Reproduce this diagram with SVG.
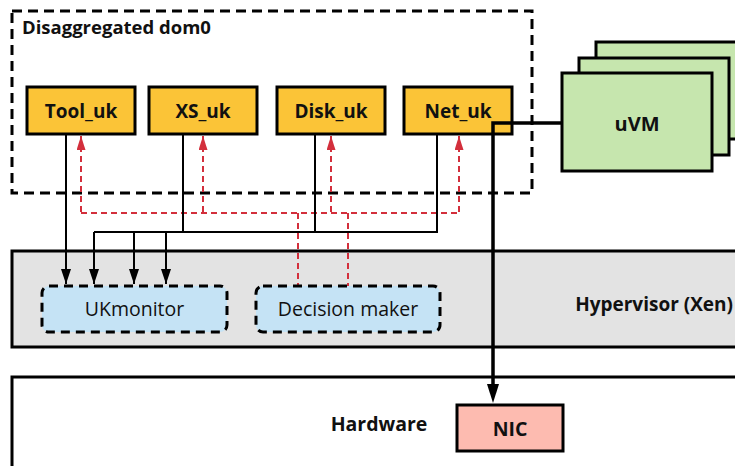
<svg xmlns="http://www.w3.org/2000/svg" width="735" height="466" viewBox="0 0 735 466">
<defs>
<style>
.uk{fill:#FBC437;stroke:#000;stroke-width:3}
.bt{font-family:"Open Sans","Noto Sans",sans-serif;font-weight:bold;fill:#111}
.rt{font-family:"Open Sans","Noto Sans",sans-serif;fill:#111}
.vm{fill:#C6E6AE;stroke:#000;stroke-width:3}
.mod{fill:#C5E3F5;stroke:#000;stroke-width:3;stroke-dasharray:9 6}
.blk{fill:none;stroke:#000;stroke-width:2}
.red{fill:none;stroke:#D32F3C;stroke-width:2;stroke-dasharray:6 4}
</style>
<marker id="ab" viewBox="0 0 15 10" refX="15" refY="5" markerWidth="15" markerHeight="10" markerUnits="userSpaceOnUse" orient="auto">
<path d="M0,0 L15,5 L0,10 Z" fill="#000"/>
</marker>
<marker id="ar" viewBox="0 0 14 9" refX="14" refY="4.5" markerWidth="14" markerHeight="9" markerUnits="userSpaceOnUse" orient="auto-start-reverse">
<path d="M0,0 L14,4.5 L0,9 Z" fill="#D32F3C"/>
</marker>
</defs>
<rect width="735" height="466" fill="#fff"/>

<g id="hardware">
<rect x="12" y="377" width="740" height="100" fill="#fff" stroke="#000" stroke-width="3"/>
<text class="bt" x="379" y="431" font-size="19.5" text-anchor="middle">Hardware</text>
</g>
<g id="hypervisor">
<rect x="12" y="251" width="740" height="96" fill="#E3E3E3" stroke="#000" stroke-width="3"/>
<text class="bt" x="733" y="311" font-size="19" text-anchor="end">Hypervisor (Xen)</text>
</g>

<g id="dom0">
<rect x="12" y="11" width="520" height="182" fill="none" stroke="#000" stroke-width="3" stroke-dasharray="10 6"/>
<text class="bt" x="22" y="34" font-size="18.5">Disaggregated dom0</text>
</g>

<g id="uvm">
<rect class="vm" x="596" y="42" width="150" height="97"/>
<rect class="vm" x="579" y="58" width="150" height="97"/>
<rect class="vm" x="562" y="73" width="150" height="98"/>
<text class="bt" x="637" y="131" font-size="20" text-anchor="middle">uVM</text>
</g>

<g id="connectors">
<path class="red" d="M81,213 H459 M298,213 V286 M348,213 V286"/>
<path class="red" d="M81,136 V213" marker-start="url(#ar)"/>
<path class="red" d="M203,136 V213" marker-start="url(#ar)"/>
<path class="red" d="M331,136 V213" marker-start="url(#ar)"/>
<path class="red" d="M459,136 V213" marker-start="url(#ar)"/>
<path class="blk" d="M183,134 V232 M315,134 V232 M437,134 V232 H94"/>
<path class="blk" d="M66,134 V284" marker-end="url(#ab)"/>
<path class="blk" d="M94,232 V284" marker-end="url(#ab)"/>
<path class="blk" d="M134,232 V284" marker-end="url(#ab)"/>
<path class="blk" d="M166,232 V284" marker-end="url(#ab)"/>
</g>

<g id="tool_uk">
<rect class="uk" x="27" y="87" width="108" height="47"/>
<text class="bt" x="81" y="117.5" font-size="19" text-anchor="middle">Tool_uk</text>
</g>
<g id="xs_uk">
<rect class="uk" x="149" y="87" width="108" height="47"/>
<text class="bt" x="203" y="117.5" font-size="19" text-anchor="middle">XS_uk</text>
</g>
<g id="disk_uk">
<rect class="uk" x="277" y="87" width="108" height="47"/>
<text class="bt" x="331" y="117.5" font-size="19" text-anchor="middle">Disk_uk</text>
</g>
<g id="net_uk">
<rect class="uk" x="404" y="87" width="108" height="47"/>
<text class="bt" x="458" y="117.5" font-size="19" text-anchor="middle">Net_uk</text>
</g>

<g id="ukmonitor">
<rect class="mod" x="42" y="286" width="185" height="46" rx="7"/>
<text class="rt" x="134.5" y="316" font-size="19.5" text-anchor="middle">UKmonitor</text>
</g>
<g id="decision">
<rect class="mod" x="256" y="286" width="184" height="46" rx="7"/>
<text class="rt" x="348" y="316" font-size="19.5" text-anchor="middle">Decision maker</text>
</g>

<g id="nic">
<rect x="457" y="405" width="106" height="46" fill="#FDBBB0" stroke="#000" stroke-width="3"/>
<text class="bt" x="510" y="435.5" font-size="19.5" text-anchor="middle">NIC</text>
</g>

<g id="net-link">
<path d="M562,123 H493 V386" fill="none" stroke="#000" stroke-width="3.5"/>
<path d="M487,384 L499,384 L493,403 Z" fill="#000"/>
</g>
</svg>
